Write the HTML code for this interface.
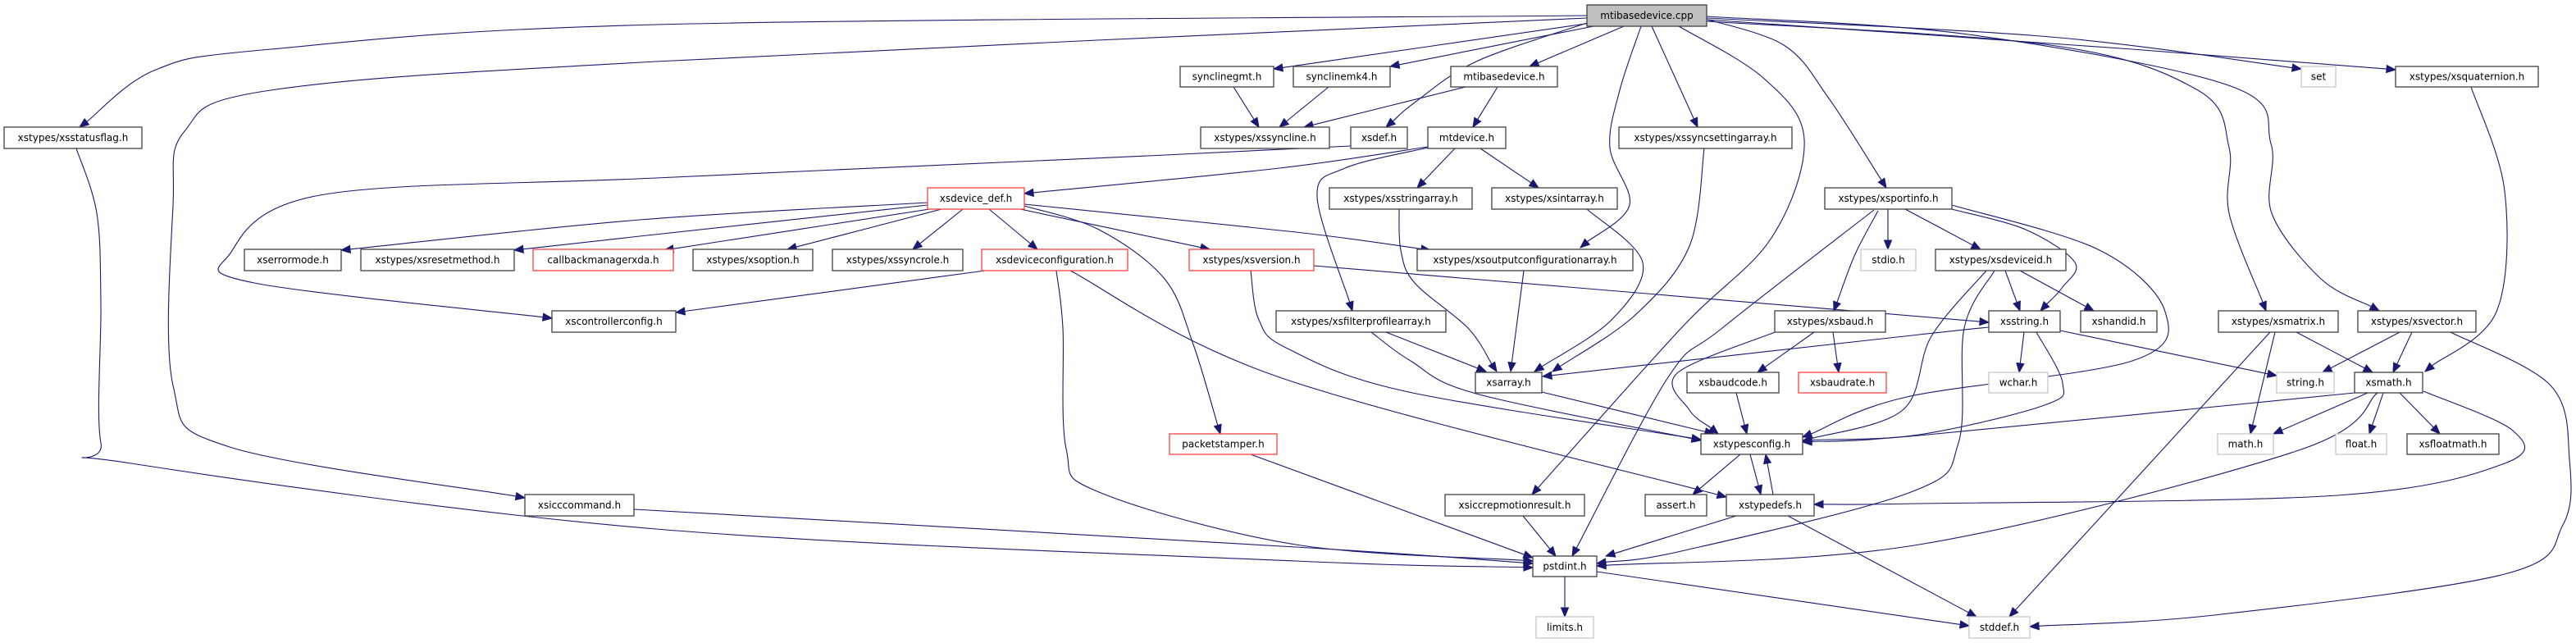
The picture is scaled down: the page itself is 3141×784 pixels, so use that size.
<!DOCTYPE html>
<html><head><meta charset="utf-8"><style>
html,body{margin:0;padding:0;background:#fff;}
svg{display:block}
text{font-family:"DejaVu Sans","Liberation Sans",sans-serif;font-size:12px;fill:#000;text-anchor:middle;dominant-baseline:central}
.n{fill:#fff;stroke:#404040;stroke-width:1.3}
.r{fill:#fff;stroke:#ff4040;stroke-width:1.3}
.g{fill:#fff;stroke:#c8c8c8;stroke-width:1.3}
.root{fill:#bfbfbf;stroke:#404040;stroke-width:1.3}
.e{fill:none;stroke:#191970;stroke-width:1.1}
.a{fill:#191970;stroke:#191970;stroke-width:1}
</style></head><body>
<svg id="s" width="3141" height="784" xmlns="http://www.w3.org/2000/svg">
<g id="edges"></g>
<g id="nodes">
<rect class="root" x="1935" y="6" width="146" height="26"/><text x="2008" y="19">mtibasedevice.cpp</text>
<rect class="n" x="5" y="155" width="168" height="26"/><text x="89" y="168">xstypes/xsstatusflag.h</text>
<rect class="n" x="1439" y="81" width="114" height="25"/><text x="1496" y="93.5">synclinegmt.h</text>
<rect class="n" x="1577" y="81" width="118" height="25"/><text x="1636" y="93.5">synclinemk4.h</text>
<rect class="n" x="1769" y="81" width="130" height="25"/><text x="1834" y="93.5">mtibasedevice.h</text>
<rect class="g" x="2806" y="81" width="42" height="25"/><text x="2827" y="93.5">set</text>
<rect class="n" x="2921" y="81" width="174" height="25"/><text x="3008" y="93.5">xstypes/xsquaternion.h</text>
<rect class="n" x="1464" y="155" width="157" height="26"/><text x="1542.5" y="168">xstypes/xssyncline.h</text>
<rect class="n" x="1647" y="155" width="69" height="26"/><text x="1681.5" y="168">xsdef.h</text>
<rect class="n" x="1741" y="155" width="95" height="26"/><text x="1788.5" y="168">mtdevice.h</text>
<rect class="n" x="1974" y="155" width="211" height="26"/><text x="2079.5" y="168">xstypes/xssyncsettingarray.h</text>
<rect class="r" x="1131" y="229" width="118" height="26"/><text x="1190" y="242">xsdevice_def.h</text>
<rect class="n" x="1621" y="229" width="174" height="26"/><text x="1708" y="242">xstypes/xsstringarray.h</text>
<rect class="n" x="1819" y="229" width="153" height="26"/><text x="1895.5" y="242">xstypes/xsintarray.h</text>
<rect class="n" x="2225" y="229" width="155" height="26"/><text x="2302.5" y="242">xstypes/xsportinfo.h</text>
<rect class="n" x="298" y="304" width="118" height="26"/><text x="357" y="317">xserrormode.h</text>
<rect class="n" x="440" y="304" width="187" height="26"/><text x="533.5" y="317">xstypes/xsresetmethod.h</text>
<rect class="r" x="650" y="304" width="171" height="26"/><text x="735.5" y="317">callbackmanagerxda.h</text>
<rect class="n" x="845" y="304" width="146" height="26"/><text x="918" y="317">xstypes/xsoption.h</text>
<rect class="n" x="1015" y="304" width="159" height="26"/><text x="1094.5" y="317">xstypes/xssyncrole.h</text>
<rect class="r" x="1197" y="304" width="178" height="26"/><text x="1286" y="317">xsdeviceconfiguration.h</text>
<rect class="r" x="1450" y="304" width="152" height="26"/><text x="1526" y="317">xstypes/xsversion.h</text>
<rect class="n" x="1728" y="304" width="263" height="26"/><text x="1859.5" y="317">xstypes/xsoutputconfigurationarray.h</text>
<rect class="g" x="2269" y="304" width="67" height="26"/><text x="2302.5" y="317">stdio.h</text>
<rect class="n" x="2360" y="304" width="159" height="26"/><text x="2439.5" y="317">xstypes/xsdeviceid.h</text>
<rect class="n" x="673" y="379" width="151" height="26"/><text x="748.5" y="392">xscontrollerconfig.h</text>
<rect class="n" x="1556" y="379" width="207" height="26"/><text x="1659.5" y="392">xstypes/xsfilterprofilearray.h</text>
<rect class="n" x="2164" y="379" width="135" height="26"/><text x="2231.5" y="392">xstypes/xsbaud.h</text>
<rect class="n" x="2425" y="379" width="87" height="26"/><text x="2468.5" y="392">xsstring.h</text>
<rect class="n" x="2537" y="379" width="93" height="26"/><text x="2583.5" y="392">xshandid.h</text>
<rect class="n" x="2705" y="379" width="146" height="26"/><text x="2778" y="392">xstypes/xsmatrix.h</text>
<rect class="n" x="2875" y="379" width="144" height="26"/><text x="2947" y="392">xstypes/xsvector.h</text>
<rect class="n" x="1799" y="454" width="81" height="25"/><text x="1839.5" y="466.5">xsarray.h</text>
<rect class="n" x="2057" y="454" width="112" height="25"/><text x="2113" y="466.5">xsbaudcode.h</text>
<rect class="r" x="2193" y="454" width="107" height="25"/><text x="2246.5" y="466.5">xsbaudrate.h</text>
<rect class="g" x="2425" y="454" width="72" height="25"/><text x="2461" y="466.5">wchar.h</text>
<rect class="g" x="2776" y="454" width="70" height="25"/><text x="2811" y="466.5">string.h</text>
<rect class="n" x="2871" y="454" width="83" height="25"/><text x="2912.5" y="466.5">xsmath.h</text>
<rect class="r" x="1426" y="529" width="131" height="25"/><text x="1491.5" y="541.5">packetstamper.h</text>
<rect class="n" x="2074" y="529" width="124" height="25"/><text x="2136" y="541.5">xstypesconfig.h</text>
<rect class="g" x="2704" y="529" width="68" height="25"/><text x="2738" y="541.5">math.h</text>
<rect class="g" x="2848" y="529" width="62" height="25"/><text x="2879" y="541.5">float.h</text>
<rect class="n" x="2935" y="529" width="112" height="25"/><text x="2991" y="541.5">xsfloatmath.h</text>
<rect class="n" x="640" y="603" width="133" height="26"/><text x="706.5" y="616">xsicccommand.h</text>
<rect class="n" x="1762" y="603" width="170" height="26"/><text x="1847" y="616">xsiccrepmotionresult.h</text>
<rect class="n" x="2006" y="603" width="75" height="26"/><text x="2043.5" y="616">assert.h</text>
<rect class="n" x="2105" y="603" width="107" height="26"/><text x="2158.5" y="616">xstypedefs.h</text>
<rect class="n" x="1869" y="678" width="78" height="25"/><text x="1908" y="690.5">pstdint.h</text>
<rect class="g" x="1873" y="752" width="70" height="26"/><text x="1908" y="765">limits.h</text>
<rect class="g" x="2401" y="752" width="74" height="26"/><text x="2438" y="765">stddef.h</text>
</g>
</svg>
<script>
var E=[
[[1935,19],[800,30],[330,60],[190,85],[97,155]],
[[1935,22],[800,75],[330,110],[225,160],[211,250],[211,470],[280,545],[640,607]],
[[93,181],[118,260],[123,370],[123,540],[160,565],[800,645],[1580,684],[1869,692]],
[[773,621],[1580,667],[1869,687]],
[[1940,28],[1553,84]],
[[1948,31],[1695,81]],
[[1980,32],[1865,81]],
[[1935,28],[1800,75],[1725,125],[1690,155]],
[[2001,32],[1975,110],[1963,180],[1987,250],[1927,302]],
[[2014,32],[2070,155]],
[[2047,32],[2150,95],[2200,170],[2160,290],[2050,400],[1868,603]],
[[2075,22],[2175,55],[2230,120],[2300,229]],
[[2081,22],[2500,45],[2806,84]],
[[2081,24],[2600,60],[2921,85]],
[[2081,26],[2500,55],[2680,110],[2718,180],[2718,260],[2763,379]],
[[2081,20],[2400,42],[2720,105],[2769,175],[2770,260],[2830,340],[2901,379]],
[[1787,106],[1590,155]],
[[1826,106],[1796,155]],
[[1504,106],[1535,155]],
[[1620,106],[1560,155]],
[[1647,178],[1400,190],[800,217],[390,238],[280,310],[310,345],[673,388]],
[[1741,179],[1560,205],[1249,236]],
[[1774,181],[1728,229]],
[[1805,181],[1876,229]],
[[1741,180],[1640,205],[1606,240],[1649,379]],
[[2078,181],[2060,300],[1994,384],[1893,453]],
[[1935,255],[2003,320],[1965,390],[1871,453]],
[[1706,255],[1708,305],[1725,345],[1790,400],[1825,453]],
[[1858,330],[1842,453]],
[[1690,405],[1812,453]],
[[1672,405],[1720,440],[1800,480],[2074,537]],
[[1131,247],[780,268],[416,305]],
[[1131,250],[780,288],[627,305]],
[[1140,254],[810,305]],
[[1148,255],[960,304]],
[[1174,255],[1113,304]],
[[1206,255],[1265,304]],
[[1244,255],[1475,304]],
[[1249,249],[1580,283],[1744,305]],
[[1249,251],[1340,280],[1420,340],[1455,420],[1488,529]],
[[1201,330],[824,381]],
[[1288,330],[1296,400],[1300,547],[1340,600],[1580,664],[1869,684]],
[[1305,330],[1560,460],[2105,606]],
[[1602,324],[2425,393]],
[[1525,330],[1535,390],[1570,425],[1713,477],[2074,536]],
[[1525,554],[1869,680]],
[[1857,629],[1897,678]],
[[2302,255],[2302,304]],
[[2290,257],[2262,310],[2236,379]],
[[2323,255],[2415,304]],
[[2380,255],[2470,280],[2530,320],[2515,350],[2488,379]],
[[2380,250],[2560,305],[2640,380],[2600,440],[2325,484],[2198,533]],
[[2285,256],[2100,400],[2034,460],[1917,678]],
[[2445,330],[2463,379]],
[[2463,330],[2553,379]],
[[2422,330],[2355,410],[2320,500],[2198,538]],
[[2432,330],[2395,400],[2388,540],[2330,600],[2050,672],[1947,687]],
[[2212,405],[2143,454]],
[[2235,405],[2242,454]],
[[2167,404],[2045,455],[2060,500],[2095,529]],
[[2117,479],[2130,529]],
[[2425,399],[2340,408],[1881,459]],
[[2468,405],[2462,454]],
[[2512,403],[2776,458]],
[[2483,405],[2515,467],[2493,494],[2340,530],[2198,537]],
[[1880,478],[2090,529]],
[[2800,405],[2893,454]],
[[2774,405],[2744,529]],
[[2768,405],[2450,752]],
[[2926,405],[2832,454]],
[[2941,405],[2918,454]],
[[2988,405],[3110,470],[3133,560],[3125,640],[3054,700],[2700,750],[2475,764]],
[[3013,106],[3054,233],[3044,380],[2957,453]],
[[2871,479],[2340,531],[2198,539]],
[[2887,479],[2772,529]],
[[2906,479],[2889,529]],
[[2926,479],[2975,529]],
[[2899,479],[2800,550],[2340,664],[1947,690]],
[[2955,477],[3064,525],[3054,565],[2850,604],[2340,614],[2212,615]],
[[2122,554],[2064,603]],
[[2134,554],[2147,603]],
[[2162,603],[2153,554]],
[[2117,629],[1958,678]],
[[2180,629],[2410,752]],
[[1908,703],[1908,752]],
[[1947,697],[2401,763]]
];
var out='';
E.forEach(function(p){
 var n=p.length,t=p[n-1],q=p[n-2];
 var dx=t[0]-q[0],dy=t[1]-q[1],L=Math.hypot(dx,dy),ux=dx/L,uy=dy/L,al=11,hw=4.5;
 var b=[t[0]-ux*al,t[1]-uy*al];
 var pts=p.slice(0,n-1).concat([b]);
 var d='M'+pts[0][0]+','+pts[0][1];
 for(var i=0;i<pts.length-1;i++){
  var p0=pts[i-1]||pts[i],p1=pts[i],p2=pts[i+1],p3=pts[i+2]||pts[i+1];
  var c1=[p1[0]+(p2[0]-p0[0])/6,p1[1]+(p2[1]-p0[1])/6];
  var c2=[p2[0]-(p3[0]-p1[0])/6,p2[1]-(p3[1]-p1[1])/6];
  d+=' C'+c1[0].toFixed(1)+','+c1[1].toFixed(1)+' '+c2[0].toFixed(1)+','+c2[1].toFixed(1)+' '+p2[0].toFixed(1)+','+p2[1].toFixed(1);
 }
 out+='<path class="e" d="'+d+'"/>';
 out+='<polygon class="a" points="'+t[0]+','+t[1]+' '+(b[0]-uy*hw).toFixed(1)+','+(b[1]+ux*hw).toFixed(1)+' '+(b[0]+uy*hw).toFixed(1)+','+(b[1]-ux*hw).toFixed(1)+'"/>';
});
document.getElementById('edges').innerHTML=out;
</script>
</body></html>
